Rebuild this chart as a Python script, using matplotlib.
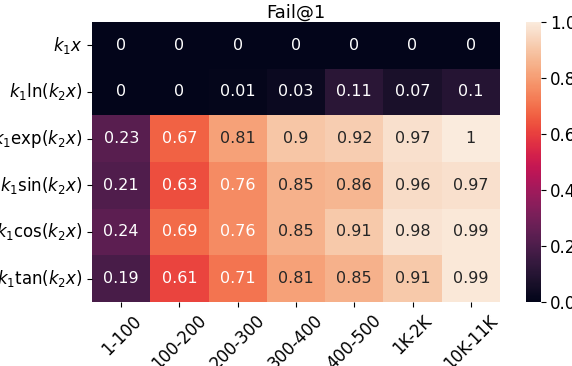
import matplotlib
matplotlib.use("Agg")
import matplotlib.pyplot as plt
import seaborn as sns
import numpy as np

# row labels (functions) and column labels (ranges)
functions = [r"$k_1x$", r"$k_1\ln(k_2x)$", r"$k_1\exp(k_2x)$",
             r"$k_1\sin(k_2x)$", r"$k_1\cos(k_2x)$", r"$k_1\tan(k_2x)$"]
ranges = ["1-100", "100-200", "200-300", "300-400", "400-500", "1K-2K", "10K-11K"]

row_linear = [0, 0, 0, 0, 0, 0, 0]
row_ln = [0, 0, 0.01, 0.03, 0.11, 0.07, 0.1]
row_exp = [0.23, 0.67, 0.81, 0.9, 0.92, 0.97, 1]
row_sin = [0.21, 0.63, 0.76, 0.85, 0.86, 0.96, 0.97]
row_cos = [0.24, 0.69, 0.76, 0.85, 0.91, 0.98, 0.99]
row_tan = [0.19, 0.61, 0.71, 0.81, 0.85, 0.91, 0.99]

data = np.array([row_linear, row_ln, row_exp, row_sin, row_cos, row_tan])

plt.rcParams["mathtext.fontset"] = "dejavusans"
fig = plt.figure(figsize=(5.72, 3.66), dpi=100)
ax = fig.add_axes([0.161, 0.175, 0.713, 0.765])
cax = fig.add_axes([0.920, 0.175, 0.025, 0.765])

sns.heatmap(data, ax=ax, cbar_ax=cax, cmap="rocket", vmin=0, vmax=1,
            annot=True, annot_kws={"size": 11.5}, xticklabels=ranges, yticklabels=functions)

ax.set_title("Fail@1", fontsize=13, pad=3)
ax.set_xticklabels(ranges, rotation=45, fontsize=12)
ax.set_yticklabels(functions, rotation=0, fontsize=12)
cax.tick_params(labelsize=12)

fig.savefig("out.png", dpi=100)
